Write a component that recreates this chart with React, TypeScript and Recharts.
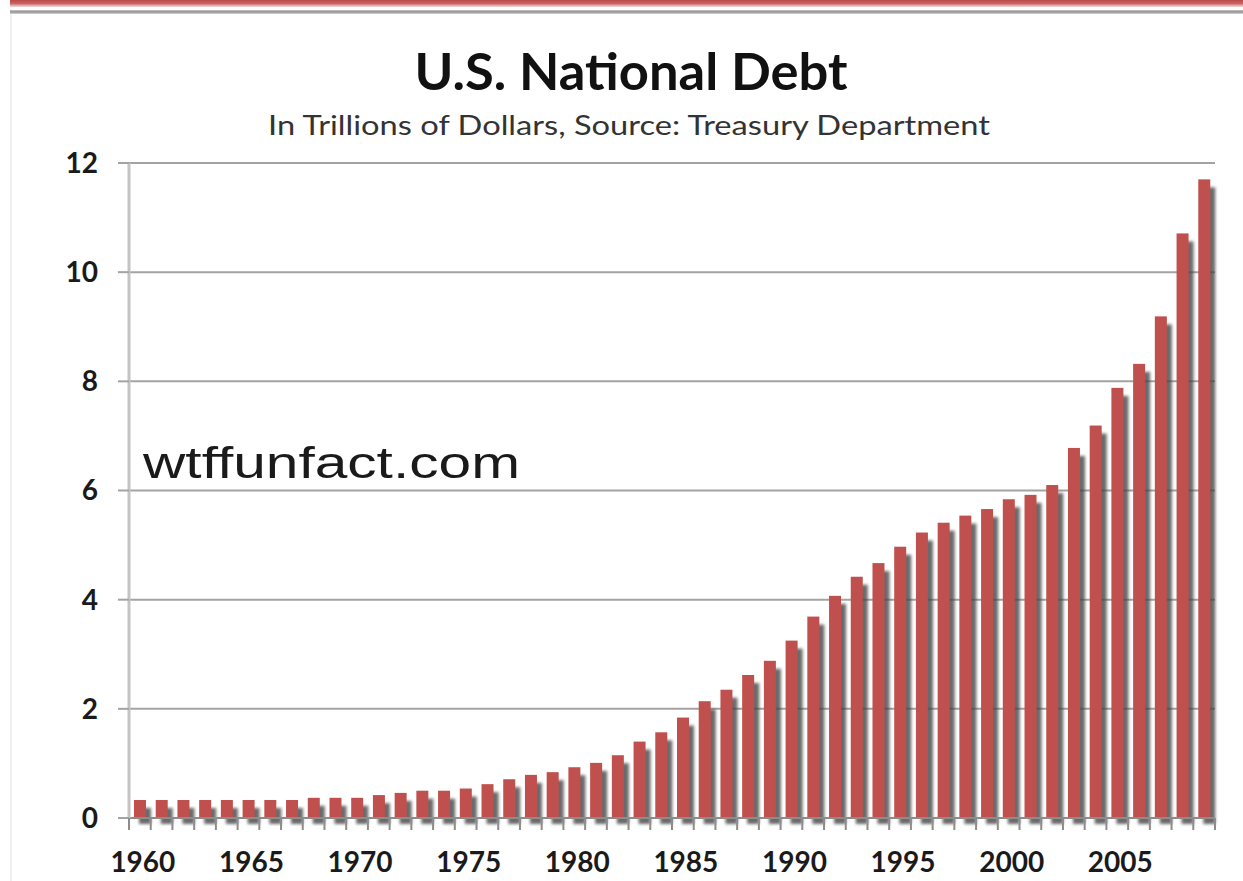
import React from 'react'
import { BarChart, Bar, XAxis, YAxis, CartesianGrid } from 'recharts'

// Debt in trillions of dollars
const years = [
  '1960', '1961', '1962', '1963', '1964', '1965', '1966', '1967', '1968', '1969',
  '1970', '1971', '1972', '1973', '1974', '1975', '1976', '1977', '1978', '1979',
  '1980', '1981', '1982', '1983', '1984', '1985', '1986', '1987', '1988', '1989',
  '1990', '1991', '1992', '1993', '1994', '1995', '1996', '1997', '1998', '1999',
  '2000', '2001', '2002', '2003', '2004', '2005', '2006', '2007', '2008', '2009',
]
const debt = [
  0.33, 0.33, 0.33, 0.33, 0.33, 0.33, 0.33, 0.33, 0.37, 0.37,
  0.37, 0.42, 0.46, 0.50, 0.50, 0.54, 0.62, 0.71, 0.79, 0.84,
  0.93, 1.01, 1.15, 1.40, 1.57, 1.84, 2.14, 2.35, 2.62, 2.88,
  3.25, 3.69, 4.07, 4.42, 4.67, 4.97, 5.23, 5.41, 5.54, 5.66,
  5.84, 5.92, 6.10, 6.78, 7.19, 7.88, 8.32, 9.19, 10.71, 11.70,
]
const yTicks = [0, 2, 4, 6, 8, 10, 12]
const labelledYears = ['1960', '1965', '1970', '1975', '1980', '1985', '1990', '1995', '2000', '2005']

const data = years.map((year, i) => ({ year, debt: debt[i] }))

const labelFont = 'Lato, "Open Sans", sans-serif'

const ShadowBar = (props: any) => {
  const { x, y, width, height } = props
  return (
    <g>
      <rect x={x + 5} y={y + 8} width={width} height={height - 2} fill="#444" opacity={0.8} filter="url(#barShadow)" />
      <rect x={x} y={y} width={width} height={height} fill="#C0504D" />
    </g>
  )
}

const XTick = (props: any) => {
  const { x, y, payload, index } = props
  const half = payload && payload.offset ? payload.offset : 10.86
  const isLast = index === years.length - 1
  return (
    <g>
      <line x1={x - half} x2={x - half} y1={y} y2={y + 12} stroke="#8c8c8c" strokeWidth={2} />
      {isLast && <line x1={x + half} x2={x + half} y1={y} y2={y + 12} stroke="#8c8c8c" strokeWidth={2} />}
      {labelledYears.includes(payload.value) && (
        <text x={x + 3} y={y + 54} textAnchor="middle" fontFamily={labelFont} fontWeight={700} fontSize={28} fill="#1a1a1a">
          {payload.value}
        </text>
      )}
    </g>
  )
}

const App = () => {
  return (
    <div style={{ position: 'absolute', left: 0, top: 0, width: 1243, height: 881, background: '#fff' }}>
      <BarChart
        width={1243}
        height={881}
        data={data}
        margin={{ top: 163, right: 28, bottom: 0, left: 0 }}
        barSize={12}
      >
        <CartesianGrid vertical={false} stroke="#a3a3a3" strokeWidth={2} />
        <XAxis
          dataKey="year"
          interval={0}
          height={63}
          tickSize={0}
          tickMargin={0}
          tick={<XTick />}
          axisLine={{ stroke: '#8c8c8c', strokeWidth: 2 }}
        />
        <YAxis
          domain={[0, 12]}
          ticks={yTicks}
          width={129}
          tickSize={11}
          tickMargin={20}
          tickLine={{ stroke: '#a3a3a3', strokeWidth: 2 }}
          axisLine={{ stroke: '#c4c4c4', strokeWidth: 3 }}
          tick={{ fontFamily: labelFont, fontWeight: 700, fontSize: 28, fill: '#1a1a1a' }}
        />
        <Bar dataKey="debt" shape={<ShadowBar />} isAnimationActive={false} />
      </BarChart>

      <svg width={1243} height={881} style={{ position: 'absolute', left: 0, top: 0, pointerEvents: 'none' }}>
        <defs>
          <filter id="barShadow" x="-60%" y="-10%" width="220%" height="120%">
            <feGaussianBlur stdDeviation={1.8} />
          </filter>
          <linearGradient id="topBand" x1="0" y1="0" x2="0" y2="1">
            <stop offset="0" stopColor="#b94a48" />
            <stop offset="0.5" stopColor="#c96463" />
            <stop offset="1" stopColor="#f6dede" />
          </linearGradient>
          <linearGradient id="grayBand" x1="0" y1="0" x2="0" y2="1">
            <stop offset="0" stopColor="#c8c8c8" />
            <stop offset="0.5" stopColor="#8f8f8f" />
            <stop offset="1" stopColor="#dcdcdc" />
          </linearGradient>
        </defs>
        <rect x={10} y={0} width={1233} height={7} fill="url(#topBand)" />
        <rect x={10} y={10} width={1233} height={4} fill="url(#grayBand)" />
        <rect x={10} y={14} width={2} height={867} fill="#f0f0f0" />

        <text x={631} y={90} textAnchor="middle" fontFamily={labelFont} fontWeight={700} fontSize={51}
          fill="#111" textLength={433} lengthAdjust="spacingAndGlyphs">
          U.S. National Debt
        </text>
        <text x={629} y={135} textAnchor="middle" fontFamily={labelFont} fontSize={26}
          fill="#333" textLength={722} lengthAdjust="spacingAndGlyphs">
          In Trillions of Dollars, Source: Treasury Department
        </text>
        <text x={143} y={478} fontFamily='"Liberation Sans", Arial, sans-serif' fontSize={45}
          fill="#1a1a1a" textLength={377} lengthAdjust="spacingAndGlyphs">
          wtffunfact.com
        </text>
      </svg>
    </div>
  )
}

export default App
